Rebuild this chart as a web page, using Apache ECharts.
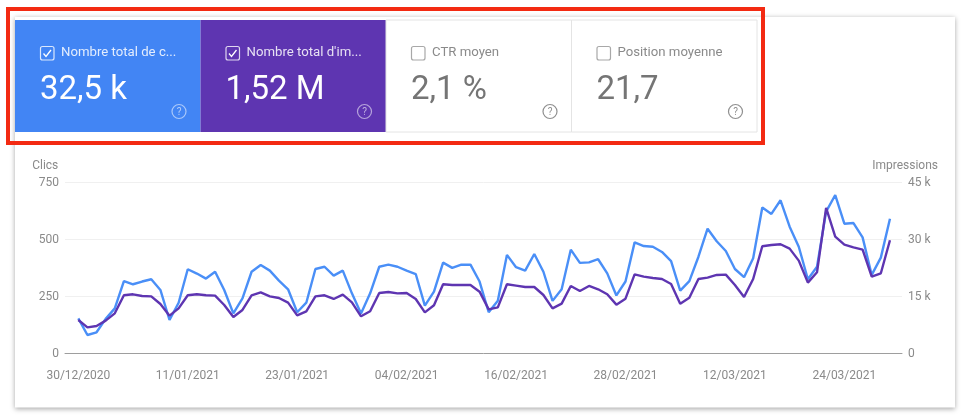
<!DOCTYPE html>
<html>
<head>
<meta charset="utf-8">
<style>html,body{margin:0;padding:0;background:#fff}#c{width:964px;height:418px}</style>
<script src="https://cdn.jsdelivr.net/npm/echarts@6/dist/echarts.min.js"></script>
</head>
<body>
<div id="c"></div>
<script>
var tickDays = [0, 12, 24, 36, 48, 60, 72, 84];
var tickLabels = ['30/12/2020', '11/01/2021', '23/01/2021', '04/02/2021', '16/02/2021', '28/02/2021', '12/03/2021', '24/03/2021'];
var clicks = [152,79,91,150,196,316,302,314,324,277,145,221,368,349,327,357,277,174,240,357,387,362,318,280,179,221,369,379,340,362,
  262,174,262,379,388,379,362,347,208,270,397,374,388,388,314,179,230,431,377,362,435,357,229,280,454,396,398,412,350,253,
  314,486,470,467,444,404,274,316,423,546,491,448,369,333,416,639,611,671,555,467,324,379,621,694,568,571,508,343,419,590];
var impressions = [8700,6770,7120,8530,10460,15210,15470,15030,14940,12920,9840,11780,15210,15470,15210,15120,12660,9490,11340,15210,16000,14940,14500,13270,9930,10990,14940,15210,14240,15380,
  13360,9670,10990,15820,16090,15730,15820,14240,10720,12570,18110,17930,17930,17930,16170,11510,12040,18110,17760,17400,17400,15290,11780,13010,17670,16350,17670,16790,15470,12750,
  14330,20740,20130,19780,19510,18200,13010,14590,19510,19870,20570,20660,17930,14770,19510,28130,28480,28660,27510,24350,18550,21270,38240,30680,28570,27860,27250,20130,21010,29710];
var tileLabels = ['Nombre total de c...', "Nombre total d'im...", 'CTR moyen', 'Position moyenne'];
var tileValues = ['32,5 k', '1,52 M', '2,1 %', '21,7'];

var FONT = 'Roboto, sans-serif';
var BLUE = '#4285f4', PURPLE = '#5e35b1', LINE_BLUE = '#4a8ff7';
var tileX = [15, 200.5, 386, 571.5], TILE_W = 185.5, TILE_Y = 20, TILE_H = 112;
var g = [];
g.push({type:'rect', z:0, shape:{x:15,y:17,width:940,height:390.5},
  style:{fill:'#fff', shadowBlur:5, shadowColor:'rgba(0,0,0,0.35)', shadowOffsetY:1}});
tileLabels.forEach(function(label, i){
  var on = i < 2, x = tileX[i];
  var fg = on ? '#fff' : '#757575';
  g.push({type:'rect', z:1, shape:{x:x,y:TILE_Y,width:TILE_W,height:TILE_H},
    style:{fill:on ? (i===0?BLUE:PURPLE) : '#fff', stroke:on ? null : '#e4e4e4', lineWidth:1}});
  g.push({type:'rect', z:2, shape:{x:x+25.5,y:46.5,width:13.5,height:13.5,r:2},
    style:{fill:'none', stroke:on ? 'rgba(255,255,255,0.8)' : '#a8a8a8', lineWidth:1.2}});
  if(on) g.push({type:'polyline', z:2, shape:{points:[[x+28.5,53.5],[x+31,56.5],[x+36,50]]},
    style:{fill:'none', stroke:'#fff', lineWidth:1.3}});
  g.push({type:'text', z:2, style:{x:x+46,y:53,text:label,fill:on?'rgba(255,255,255,0.85)':'#8a8a8a',
    font:'13.2px '+FONT,textVerticalAlign:'middle',verticalAlign:'middle'}});
  g.push({type:'text', z:2, style:{x:x+25,y:90.5,text:tileValues[i],fill:fg,
    font:'33px '+FONT,textVerticalAlign:'middle',verticalAlign:'middle'}});
  g.push({type:'circle', z:2, shape:{cx:x+164,cy:111.5,r:7},
    style:{fill:'none',stroke:on?'rgba(255,255,255,0.55)':'#8f8f8f',lineWidth:1.2}});
  g.push({type:'text', z:2, style:{x:x+164,y:112,text:'?',fill:on?'rgba(255,255,255,0.6)':'#8f8f8f',
    font:'10px '+FONT,align:'center',textAlign:'center',textVerticalAlign:'middle',verticalAlign:'middle'}});
});
g.push({type:'rect', z:20, shape:{x:8,y:9,width:755,height:134},
  style:{fill:'none',stroke:'#f32a12',lineWidth:4}});

var labelStyle = {color:'#8a8a8a', fontFamily:FONT, fontSize:12};
var chart = echarts.init(document.getElementById('c'), null, {renderer:'canvas'});
chart.setOption({
  animation:false,
  backgroundColor:'#fff',
  graphic:{elements:g},
  grid:{left:65,right:62,top:182.3,bottom:65},
  xAxis:{type:'value',min:-1.46,max:90.32,
    splitLine:{show:false},axisTick:{show:false},
    axisLine:{show:true,onZero:false,lineStyle:{color:'#9e9e9e',width:1}},
    axisLabel:Object.assign({},labelStyle,{margin:17,customValues:tickDays,showMinLabel:true,showMaxLabel:true,hideOverlap:false,
      formatter:function(v){return tickLabels[tickDays.indexOf(v)]||'';}})},
  yAxis:[
    {type:'value',min:0,max:750,interval:250,name:'Clics',nameLocation:'end',nameGap:10,
      nameTextStyle:Object.assign({},labelStyle,{align:'right',padding:[0,20,0,0]}),
      axisLine:{show:false},axisTick:{show:false},
      axisLabel:Object.assign({},labelStyle,{margin:6,verticalAlign:'top',lineHeight:12,padding:[-5,0,0,0]}),
      splitLine:{lineStyle:{color:'#f0f0f0',width:1}}},
    {type:'value',min:0,max:45000,interval:15000,position:'right',name:'Impressions',nameLocation:'end',nameGap:10,
      nameTextStyle:Object.assign({},labelStyle,{align:'right',padding:[0,-36,0,0]}),
      axisLine:{show:false},axisTick:{show:false},splitLine:{show:false},
      axisLabel:Object.assign({},labelStyle,{margin:6,verticalAlign:'top',lineHeight:12,padding:[-5,0,0,0],formatter:function(v){return v===0?'0':(v/1000)+' k';}})}
  ],
  series:[
    {type:'line',name:'Clics',yAxisIndex:0,showSymbol:false,z:3,
      lineStyle:{color:LINE_BLUE,width:2.4},itemStyle:{color:LINE_BLUE},
      data:clicks.map(function(v,i){return [i,v];})},
    {type:'line',name:'Impressions',yAxisIndex:1,showSymbol:false,z:4,
      lineStyle:{color:PURPLE,width:2.4},itemStyle:{color:PURPLE},
      data:impressions.map(function(v,i){return [i,v];})}
  ]
});
</script>
</body>
</html>
